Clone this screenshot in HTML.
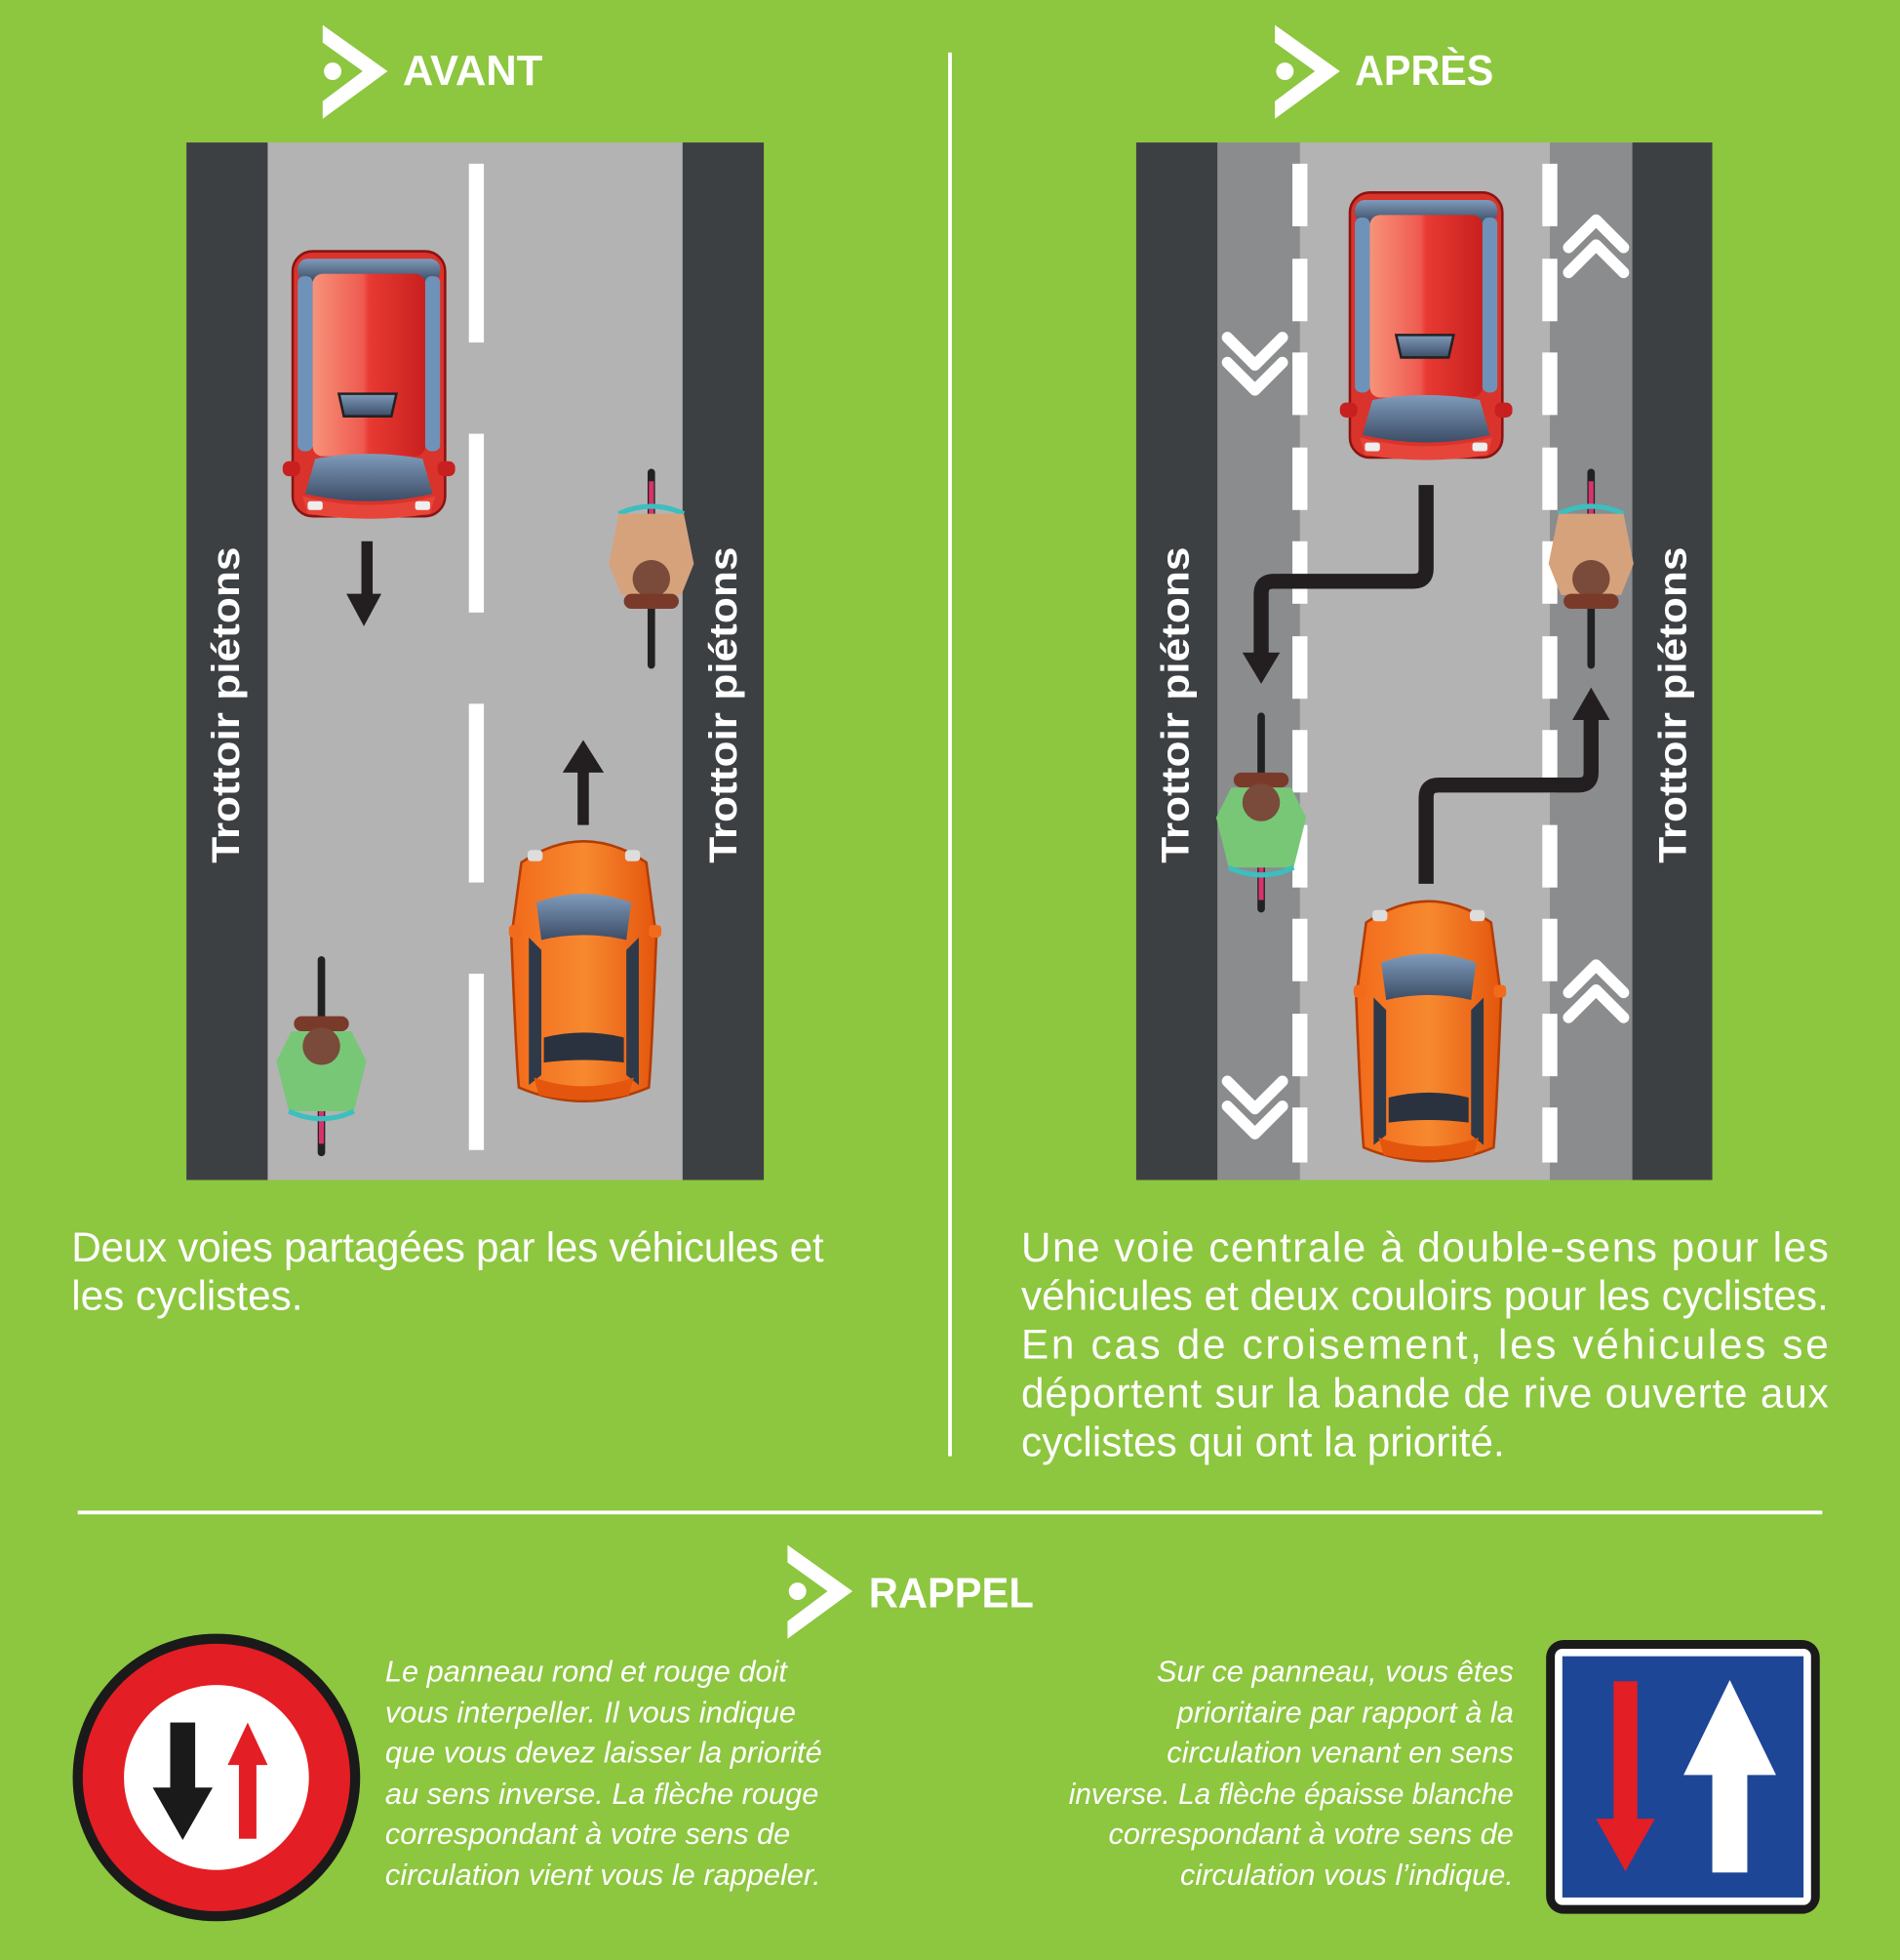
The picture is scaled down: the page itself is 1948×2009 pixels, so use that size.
<!DOCTYPE html>
<html><head><meta charset="utf-8"><style>html,body{margin:0;padding:0;background:#8dc63f}svg{display:block}</style></head>
<body>
<svg width="1948" height="2009" viewBox="0 0 1520 1568" xmlns="http://www.w3.org/2000/svg" font-family="Liberation Sans, sans-serif">
<defs>
<linearGradient id="rg" x1="0" x2="1"><stop offset="0" stop-color="#f7937a"/><stop offset="0.45" stop-color="#ee5a50"/><stop offset="0.5" stop-color="#e83a32"/><stop offset="1" stop-color="#c8201f"/></linearGradient>
<linearGradient id="og" x1="0" x2="1"><stop offset="0" stop-color="#f26a1b"/><stop offset="0.5" stop-color="#f7892f"/><stop offset="1" stop-color="#e4560d"/></linearGradient>
<linearGradient id="gl" x1="0" y1="0" x2="0" y2="1"><stop offset="0" stop-color="#7f9bbb"/><stop offset="1" stop-color="#3c4d66"/></linearGradient>
<g id="van">
<rect x="4" y="0" width="122" height="212" rx="16" fill="#d9332b" stroke="#8a1412" stroke-width="2"/>
<rect x="8" y="6" width="114" height="18" rx="8" fill="url(#gl)"/>
<rect x="8" y="20" width="12" height="140" rx="5" fill="#6f93b8"/>
<rect x="110" y="20" width="12" height="140" rx="5" fill="#6f93b8"/>
<rect x="20" y="18" width="90" height="146" rx="8" fill="url(#rg)"/>
<path d="M41 114 h46 l-4 18 h-38z" fill="url(#gl)" stroke="#222" stroke-width="2"/>
<rect x="-4" y="168" width="14" height="12" rx="5" fill="#c8201f"/>
<rect x="120" y="168" width="14" height="12" rx="5" fill="#c8201f"/>
<path d="M22 166 q43 -8 86 0 l8 28 q-51 12 -102 0z" fill="url(#gl)"/>
<path d="M12 196 q53 14 106 0 l-4 14 q-49 8 -98 0z" fill="#e8453a"/>
<rect x="16" y="200" width="12" height="7" rx="2" fill="#eee"/><rect x="102" y="200" width="12" height="7" rx="2" fill="#eee"/>
</g>
<g id="car">
<path d="M10 20 q50 -34 100 0 l8 60 q-4 100 -6 120 q-52 22 -104 0 q-2 -20 -6 -120z" fill="url(#og)" stroke="#b33c06" stroke-width="2"/>
<rect x="0" y="70" width="10" height="10" rx="3" fill="#f26a1b"/><rect x="112" y="70" width="10" height="10" rx="3" fill="#f26a1b"/>
<path d="M22 52 q38 -14 76 0 l-4 30 q-34 -8 -68 0z" fill="url(#gl)"/>
<path d="M16 80 l10 10 l0 100 l-10 8z M104 80 l-10 10 l0 100 l10 8z" fill="#2e3a4a"/>
<path d="M28 160 q32 -8 64 0 l0 20 q-32 -4 -64 0z" fill="#2a3240"/>
<path d="M20 192 q40 14 80 0 l-4 14 q-36 8 -72 0z" fill="#e4560d"/>
<rect x="15" y="10" width="12" height="9" rx="3" fill="#ddd"/><rect x="93" y="10" width="12" height="9" rx="3" fill="#ddd"/>
</g>
<g id="bikeU">
<rect x="-3" y="0" width="6" height="160" rx="3" fill="#222"/>
<rect x="-2" y="10" width="4" height="30" fill="#d6336c"/>
<path d="M-26 36 q26 -12 52 0" stroke="#3bbfbf" stroke-width="4" fill="none"/>
<path d="M-26 36 l-8 40 l10 25 h48 l10 -25 l-8 -40" fill="#d6a27c"/>
<circle cx="0" cy="88" r="15" fill="#7a4a3a"/>
<rect x="-22" y="100" width="44" height="12" rx="6" fill="#7a3a2a"/>
</g>
<g id="bikeG">
<rect x="-3" y="0" width="6" height="160" rx="3" fill="#222"/>
<rect x="-2" y="120" width="4" height="30" fill="#d6336c"/>
<rect x="-22" y="48" width="44" height="12" rx="6" fill="#7a3a2a"/>
<path d="M-26 124 l-10 -40 l12 -24 h48 l12 24 l-10 40" fill="#77c777"/>
<circle cx="0" cy="72" r="15" fill="#7a4a3a"/>
<path d="M-26 124 q26 12 52 0" stroke="#3bbfbf" stroke-width="4" fill="none"/>
</g>
<g id="chev"><path d="M0 0 l-22 22 M0 0 l22 22" stroke="#fff" stroke-width="9" stroke-linecap="round" fill="none"/></g>
<g id="logo"><path d="M0 0 l52 37 l-52 38 l0 -14 l32 -24 l-32 -23z" fill="#fff"/><circle cx="8" cy="37" r="7" fill="#fff"/></g>
</defs>
<rect width="1520" height="1568" fill="#8dc63f"/>

<use href="#logo" x="258" y="20"/>
<text x="322" y="68" font-size="34" font-weight="bold" fill="#fff" textLength="112" lengthAdjust="spacingAndGlyphs">AVANT</text>
<use href="#logo" x="1020" y="20"/>
<text x="1084" y="68" font-size="34" font-weight="bold" fill="#fff" textLength="111" lengthAdjust="spacingAndGlyphs">APRÈS</text>
<rect x="758.5" y="42" width="3" height="1123" fill="#fff"/>

<rect x="149" y="114" width="462" height="830" fill="#b3b3b3"/>
<rect x="149" y="114" width="65" height="830" fill="#3d4043"/>
<rect x="546" y="114" width="65" height="830" fill="#3d4043"/>
<g fill="#fff"><rect x="375" y="131" width="12" height="143"/><rect x="375" y="347" width="12" height="143"/><rect x="375" y="563" width="12" height="143"/><rect x="375" y="779" width="12" height="141"/></g>
<text transform="translate(191,564) rotate(-90)" text-anchor="middle" font-size="31" font-weight="bold" fill="#fff" textLength="253" lengthAdjust="spacingAndGlyphs">Trottoir piétons</text>
<text transform="translate(589,564) rotate(-90)" text-anchor="middle" font-size="31" font-weight="bold" fill="#fff" textLength="253" lengthAdjust="spacingAndGlyphs">Trottoir piétons</text>
<use href="#van" x="230" y="201"/>
<use href="#car" x="407" y="670"/>
<use href="#bikeU" x="521" y="375"/>
<use href="#bikeG" x="257" y="765"/>
<rect x="289" y="433" width="9" height="45" fill="#231f20"/><path d="M277 475 h28 l-14 26z" fill="#231f20"/>
<rect x="462" y="615" width="9" height="45" fill="#231f20"/><path d="M450 618 h33 l-16.5 -26z" fill="#231f20"/>

<rect x="909" y="114" width="461" height="830" fill="#b3b3b3"/>
<rect x="974" y="114" width="66" height="830" fill="#8a8c8e"/>
<rect x="1240" y="114" width="66" height="830" fill="#8a8c8e"/>
<rect x="909" y="114" width="65" height="830" fill="#3d4043"/>
<rect x="1306" y="114" width="64" height="830" fill="#3d4043"/>
<g fill="#fff">
<rect x="1034" y="131" width="12" height="50"/><rect x="1034" y="207" width="12" height="50"/><rect x="1034" y="282" width="12" height="50"/><rect x="1034" y="358" width="12" height="50"/><rect x="1034" y="433" width="12" height="50"/><rect x="1034" y="509" width="12" height="50"/><rect x="1034" y="584" width="12" height="50"/><rect x="1034" y="660" width="12" height="50"/><rect x="1034" y="735" width="12" height="50"/><rect x="1034" y="811" width="12" height="50"/><rect x="1034" y="886" width="12" height="44"/>
<rect x="1234" y="131" width="12" height="50"/><rect x="1234" y="207" width="12" height="50"/><rect x="1234" y="282" width="12" height="50"/><rect x="1234" y="358" width="12" height="50"/><rect x="1234" y="433" width="12" height="50"/><rect x="1234" y="509" width="12" height="50"/><rect x="1234" y="584" width="12" height="50"/><rect x="1234" y="660" width="12" height="50"/><rect x="1234" y="735" width="12" height="50"/><rect x="1234" y="811" width="12" height="50"/><rect x="1234" y="886" width="12" height="44"/>
</g>
<text transform="translate(951,564) rotate(-90)" text-anchor="middle" font-size="31" font-weight="bold" fill="#fff" textLength="253" lengthAdjust="spacingAndGlyphs">Trottoir piétons</text>
<text transform="translate(1349,564) rotate(-90)" text-anchor="middle" font-size="31" font-weight="bold" fill="#fff" textLength="253" lengthAdjust="spacingAndGlyphs">Trottoir piétons</text>
<use href="#chev" transform="translate(1004,292) rotate(180)"/><use href="#chev" transform="translate(1004,312) rotate(180)"/>
<use href="#chev" transform="translate(1004,887) rotate(180)"/><use href="#chev" transform="translate(1004,907) rotate(180)"/>
<use href="#chev" x="1277" y="176"/><use href="#chev" x="1277" y="196"/>
<use href="#chev" x="1277" y="772"/><use href="#chev" x="1277" y="792"/>
<use href="#van" x="1076" y="154"/>
<use href="#car" x="1083" y="718"/>
<use href="#bikeU" x="1273" y="375"/>
<use href="#bikeG" x="1009" y="570"/>
<path d="M1141 388 V455 q0 10 -10 10 H1019 q-10 0 -10 10 V525" stroke="#231f20" stroke-width="12" fill="none"/>
<path d="M994 522 h30 l-15 25z" fill="#231f20"/>
<path d="M1141 707 V638 q0 -10 10 -10 H1263 q10 0 10 -10 V570" stroke="#231f20" stroke-width="12" fill="none"/>
<path d="M1258 576 h30 l-15 -26z" fill="#231f20"/>

<g font-size="33" fill="#fff">
<text x="57" y="1009" textLength="602" lengthAdjust="spacing">Deux voies partagées par les véhicules et</text>
<text x="57" y="1048">les cyclistes.</text>
<text x="817" y="1009" textLength="646" lengthAdjust="spacing">Une voie centrale à double-sens pour les</text>
<text x="817" y="1048" textLength="646" lengthAdjust="spacing">véhicules et deux couloirs pour les cyclistes.</text>
<text x="817" y="1087" textLength="646" lengthAdjust="spacing">En cas de croisement, les véhicules se</text>
<text x="817" y="1126" textLength="646" lengthAdjust="spacing">déportent sur la bande de rive ouverte aux</text>
<text x="817" y="1165">cyclistes qui ont la priorité.</text>
</g>
<rect x="62" y="1208.5" width="1396" height="3" fill="#fff"/>

<use href="#logo" x="630" y="1236"/>
<text x="695" y="1286" font-size="34" font-weight="bold" fill="#fff" textLength="132" lengthAdjust="spacingAndGlyphs">RAPPEL</text>

<circle cx="173" cy="1422" r="115" fill="#1a1a1a"/>
<circle cx="173" cy="1422" r="107" fill="#e31e24"/>
<circle cx="173" cy="1422" r="74" fill="#fff"/>
<rect x="136" y="1378" width="20" height="60" fill="#1a1a1a"/><path d="M122 1430 h48 l-24 42z" fill="#1a1a1a"/>
<rect x="191" y="1408" width="14" height="63" fill="#e31e24"/><path d="M182 1412 h32 l-16 -34z" fill="#e31e24"/>

<g font-size="24" font-style="italic" fill="#fff">
<text x="308" y="1345">Le panneau rond et rouge doit</text>
<text x="308" y="1378">vous interpeller. Il vous indique</text>
<text x="308" y="1410">que vous devez laisser la priorité</text>
<text x="308" y="1443">au sens inverse. La flèche rouge</text>
<text x="308" y="1475">correspondant à votre sens de</text>
<text x="308" y="1508">circulation vient vous le rappeler.</text>
</g>
<g font-size="24" font-style="italic" fill="#fff" text-anchor="end">
<text x="1211" y="1345">Sur ce panneau, vous êtes</text>
<text x="1211" y="1378">prioritaire par rapport à la</text>
<text x="1211" y="1410">circulation venant en sens</text>
<text x="1211" y="1443" textLength="356" lengthAdjust="spacingAndGlyphs">inverse. La flèche épaisse blanche</text>
<text x="1211" y="1475">correspondant à votre sens de</text>
<text x="1211" y="1508">circulation vous l’indique.</text>
</g>

<rect x="1237" y="1312" width="219" height="219" rx="14" fill="#1a1a1a"/>
<rect x="1244" y="1319" width="205" height="205" rx="6" fill="#fff"/>
<rect x="1250" y="1325" width="193" height="193" fill="#1e4696"/>
<rect x="1291" y="1345" width="19" height="115" fill="#e31e24"/><path d="M1277 1455 h47 l-23.5 42z" fill="#e31e24"/>
<rect x="1370" y="1418" width="28" height="80" fill="#fff"/><path d="M1347 1420 h74 l-37 -76z" fill="#fff"/>
</svg>
</body></html>
